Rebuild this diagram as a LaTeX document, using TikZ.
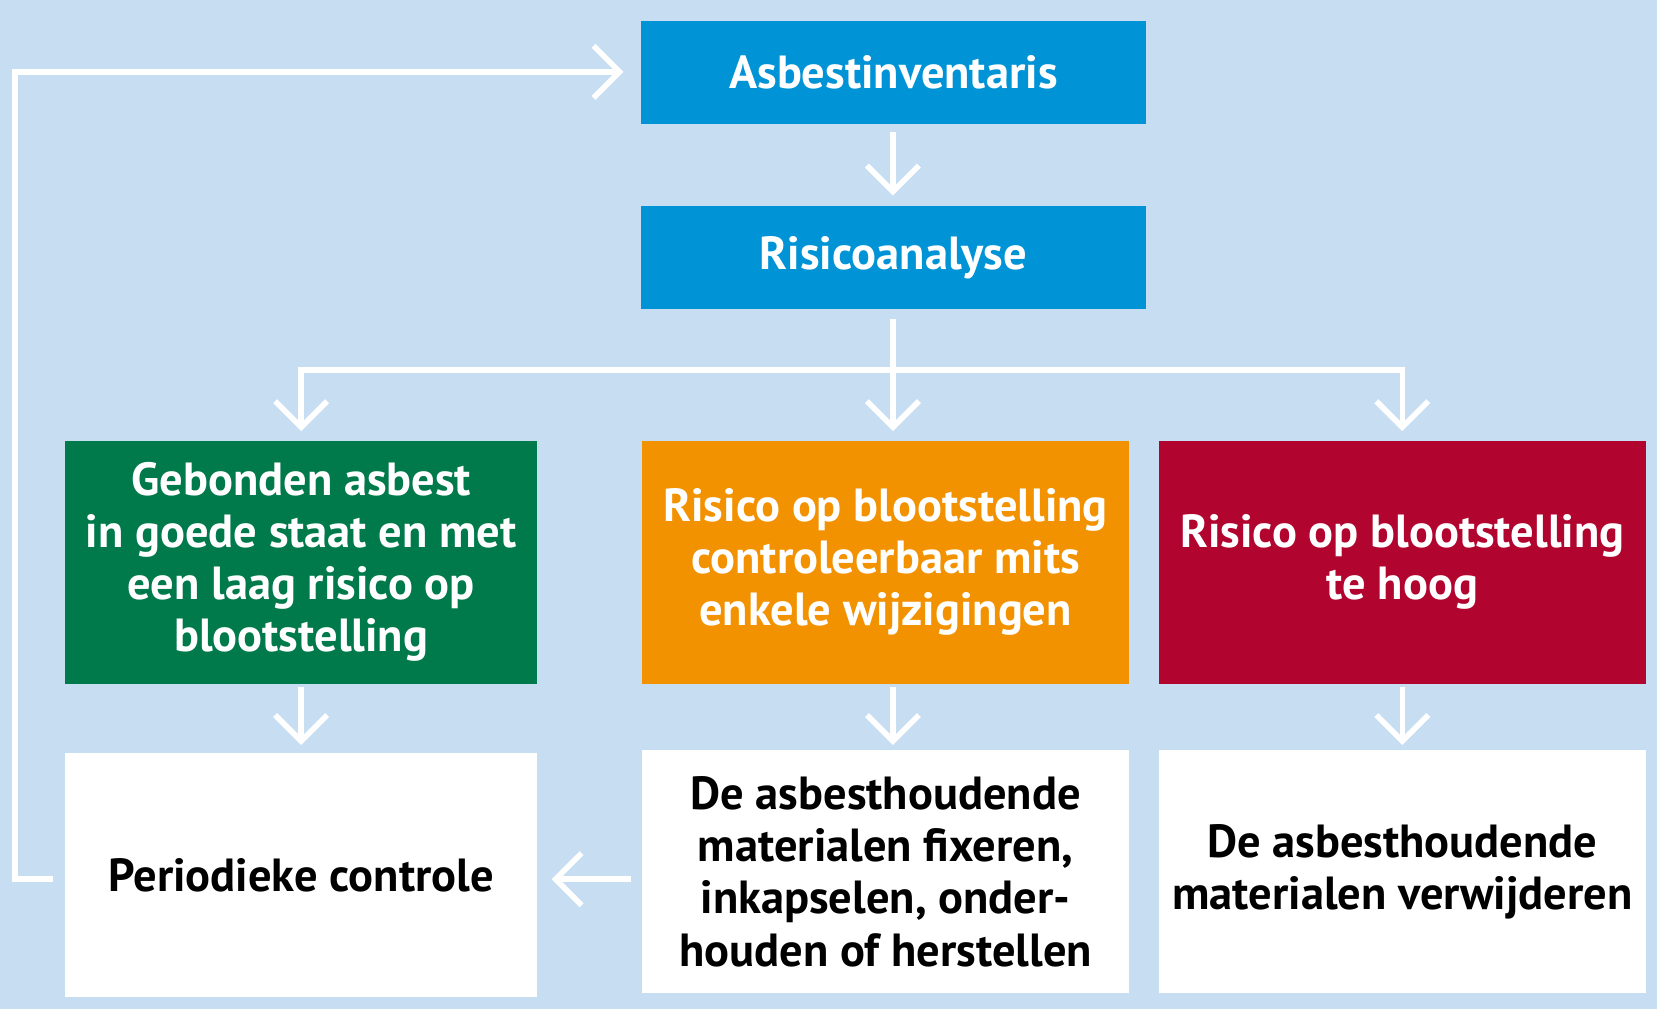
\documentclass[tikz,border=0pt]{standalone}
\usepackage{fontspec}
\setmainfont{PT Sans}
\usetikzlibrary{arrows.meta}
\definecolor{bg}{HTML}{C6DDF2}
\definecolor{cblue}{HTML}{0093D6}
\definecolor{cgreen}{HTML}{007A4B}
\definecolor{corange}{HTML}{F39200}
\definecolor{cred}{HTML}{B1052F}
\begin{document}
\begin{tikzpicture}[x=0.01cm,y=-0.01cm,
 box/.style={draw=none,inner sep=0pt,align=center,font=\bfseries\fontsize{12.5}{14}\selectfont},
 arr/.style={draw=white,line width=1.5pt,-{Straight Barb[length=7pt,width=14pt,line width=1.5pt]}}]
\fill[bg] (0,0) rectangle (1568,955);
\useasboundingbox (0,0) rectangle (1568,955);
\node[box,fill=cblue,text=white,minimum width=4.77cm,minimum height=0.97cm] (a) at (845.5,68.5) {Asbestinventaris};
\node[box,fill=cblue,text=white,minimum width=4.77cm,minimum height=0.97cm] (r) at (845.5,243.5) {Risicoanalyse};
\node[box,fill=cgreen,text=white,minimum width=4.46cm,minimum height=2.3cm] (g) at (285,532) {Gebonden asbest\\in goede staat en met\\een laag risico op\\blootstelling};
\node[box,fill=corange,text=white,minimum width=4.6cm,minimum height=2.3cm] (o) at (838,532) {Risico op blootstelling\\controleerbaar mits\\enkele wijzigingen};
\node[box,fill=cred,text=white,minimum width=4.6cm,minimum height=2.3cm] (d) at (1327,532) {Risico op blootstelling\\te hoog};
\node[box,fill=white,text=black,minimum width=4.46cm,minimum height=2.3cm] (p) at (285,828) {Periodieke controle};
\node[box,fill=white,text=black,minimum width=4.6cm,minimum height=2.3cm] (f) at (838,825) {De asbesthoudende\\materialen fixeren,\\inkapselen, onder-\\houden of herstellen};
\node[box,fill=white,text=black,minimum width=4.6cm,minimum height=2.3cm] (v) at (1327,825) {De asbesthoudende\\materialen verwijderen};
\coordinate (j) at (845,350);
\draw[arr] (845,125) -- (845,185);
\draw[draw=white,line width=1.5pt] (845,302) -- (j);
\draw[arr,rounded corners=0pt] (j) -- (285,350) -- (285,408);
\draw[arr] (j) -- (845,408);
\draw[arr] (j) -- (1327,350) -- (1327,408);
\draw[arr] (285,650) -- (285,705);
\draw[arr] (845,650) -- (845,705);
\draw[arr] (1327,650) -- (1327,705);
\draw[arr] (597,832) -- (522,832);
\draw[arr] (50,832) -- (14,832) -- (14,68) -- (590,68);
\end{tikzpicture}
\end{document}
